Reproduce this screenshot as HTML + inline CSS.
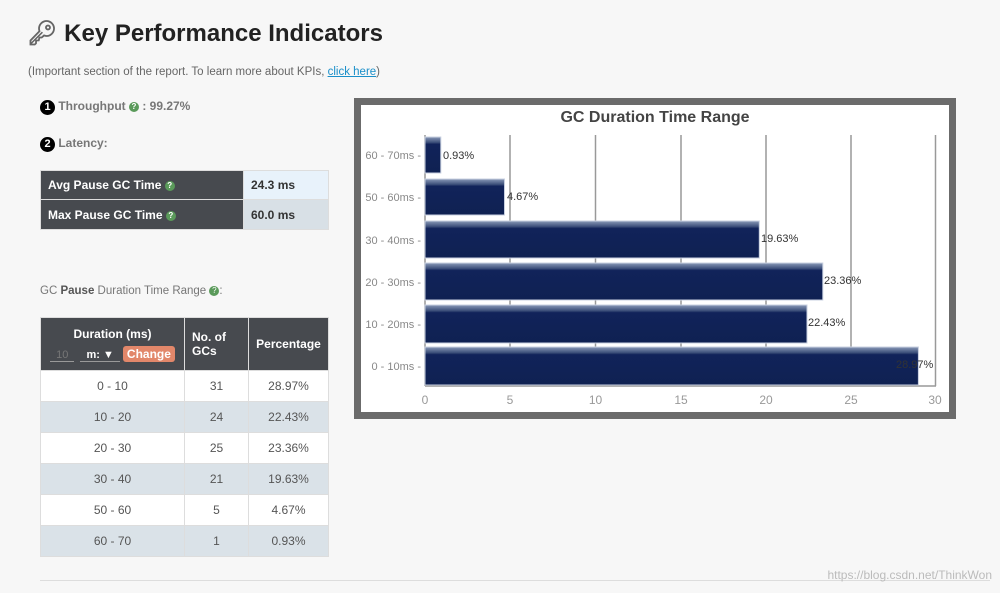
<!DOCTYPE html>
<html><head><meta charset="utf-8"><style>
body{margin:0;width:1000px;height:593px;background:#f7f7f7;font-family:"Liberation Sans",sans-serif;position:relative;overflow:hidden;color:#555}
.a{position:absolute}
table{border-collapse:collapse;position:absolute;font-size:12px;table-layout:fixed}
td,th{border:1px solid #ddd;padding:0}
.dk{background:#474a4f;color:#fff;font-weight:bold}
.q{display:inline-block;width:10px;height:10px;border-radius:50%;background:#5a9a5a;color:#fff;font-size:8px;text-align:center;line-height:10px;vertical-align:1px}
.n{display:inline-block;width:15px;height:15px;border-radius:50%;background:#000;color:#fff;font-size:11px;font-weight:bold;text-align:center;line-height:15px}
</style></head><body>
<div class="a" style="left:27px;top:19px;font-size:24px;font-weight:bold;color:#222"><span style="color:#666">&#x1F511;&#xFE0E;</span> Key Performance Indicators</div>
<div class="a" style="left:28px;top:66px;font-size:11.5px;color:#666">(Important section of the report. To learn more about KPIs, <span style="color:#1a8fc9;text-decoration:underline">click here</span>)</div>
<div class="a" style="left:40px;top:99px;font-size:12px;font-weight:bold;color:#777"><span class="n">1</span> Throughput <span class="q">?</span> : 99.27%</div>
<div class="a" style="left:40px;top:136px;font-size:12px;font-weight:bold;color:#777"><span class="n">2</span> Latency:</div>
<table style="left:40px;top:170px;width:289px">
<col style="width:203px"><col>
<tr style="height:29px"><td class="dk" style="padding-left:7px">Avg Pause GC Time <span class="q">?</span></td><td style="background:#e8f2fb;font-weight:bold;color:#333;padding-left:7px">24.3 ms</td></tr>
<tr style="height:30px"><td class="dk" style="padding-left:7px">Max Pause GC Time <span class="q">?</span></td><td style="background:#d8e0e6;font-weight:bold;color:#333;padding-left:7px">60.0 ms</td></tr>
</table>
<div class="a" style="left:40px;top:285px;font-size:11.5px;color:#777">GC <b style="color:#555">Pause</b> Duration Time Range <span class="q">?</span>:</div>
<table style="left:40px;top:317px;width:289px;text-align:center;color:#555">
<col style="width:144px"><col style="width:64px"><col>
<tr style="height:53px" class="dk"><th style="font-size:12px;background:#474a4f">Duration (ms)<div style="font-size:11px;margin-top:6px"><span style="color:#777;font-weight:normal;border-bottom:1px solid #999;padding:0 6px">10</span> &nbsp;<span style="border-bottom:1px solid #999;padding:0 6px">m: ▼</span> <span style="background:#e2876a;border-radius:3px;padding:1px 4px;font-size:12px">Change</span></div></th><th style="background:#474a4f;text-align:left;padding-left:7px">No. of<br>GCs</th><th style="background:#474a4f">Percentage</th></tr>
<tr style="height:31px;background:#fff"><td>0 - 10</td><td>31</td><td>28.97%</td></tr>
<tr style="height:31px;background:#dae2e8"><td>10 - 20</td><td>24</td><td>22.43%</td></tr>
<tr style="height:31px;background:#fff"><td>20 - 30</td><td>25</td><td>23.36%</td></tr>
<tr style="height:31px;background:#dae2e8"><td>30 - 40</td><td>21</td><td>19.63%</td></tr>
<tr style="height:31px;background:#fff"><td>50 - 60</td><td>5</td><td>4.67%</td></tr>
<tr style="height:31px;background:#dae2e8"><td>60 - 70</td><td>1</td><td>0.93%</td></tr>
</table>
<div class="a" style="left:40px;top:580px;width:950px;height:1px;background:#ddd"></div>
<div class="a" style="right:8px;top:568px;font-size:12px;color:#bbb">https://blog.csdn.net/ThinkWon</div>
<svg class="a" style="left:354px;top:98px" width="602" height="321" viewBox="354 98 602 321">
<defs><linearGradient id="g" x1="0" y1="0" x2="0" y2="1"><stop offset="0" stop-color="#8a9ab8"/><stop offset="0.15" stop-color="#3c4f7a"/><stop offset="0.2" stop-color="#11235a"/><stop offset="1" stop-color="#0f2152"/></linearGradient></defs>
<rect x="357.5" y="101.5" width="595" height="314" fill="#fff" stroke="#6b6b6b" stroke-width="7"/>
<text x="655" y="122" text-anchor="middle" font-size="16" font-weight="bold" fill="#444">GC Duration Time Range</text>
<g stroke="#999" stroke-width="1.5">
<line x1="510" y1="135" x2="510" y2="386"/><line x1="595.5" y1="135" x2="595.5" y2="386"/><line x1="681" y1="135" x2="681" y2="386"/><line x1="766" y1="135" x2="766" y2="386"/><line x1="851" y1="135" x2="851" y2="386"/><line x1="935.5" y1="135" x2="935.5" y2="386"/>
<line x1="425" y1="135" x2="425" y2="386"/><line x1="425" y1="386" x2="936" y2="386"/>
</g>
<g fill="url(#g)" stroke="#c8d0e0" stroke-width="1">
<rect x="425" y="137" width="15.8" height="36"/>
<rect x="425" y="179" width="79.5" height="36"/>
<rect x="425" y="221" width="334.3" height="37"/>
<rect x="425" y="263" width="397.8" height="37"/>
<rect x="425" y="305" width="382" height="38"/>
<rect x="425" y="347" width="493.4" height="38"/>
</g>
<g font-size="11" fill="#333">
<text x="443" y="159">0.93%</text><text x="507" y="200">4.67%</text><text x="761" y="242">19.63%</text><text x="824" y="284">23.36%</text><text x="808" y="326">22.43%</text><text x="896" y="368">28.97%</text>
</g>
<g font-size="11" fill="#888" text-anchor="end">
<text x="421" y="159">60 - 70ms -</text><text x="421" y="201">50 - 60ms -</text><text x="421" y="244">30 - 40ms -</text><text x="421" y="286">20 - 30ms -</text><text x="421" y="328">10 - 20ms -</text><text x="421" y="370">0 - 10ms -</text>
</g>
<g font-size="12" fill="#999" text-anchor="middle">
<text x="425" y="404">0</text><text x="510" y="404">5</text><text x="595.5" y="404">10</text><text x="681" y="404">15</text><text x="766" y="404">20</text><text x="851" y="404">25</text><text x="935" y="404">30</text>
</g>
</svg>
</body></html>
